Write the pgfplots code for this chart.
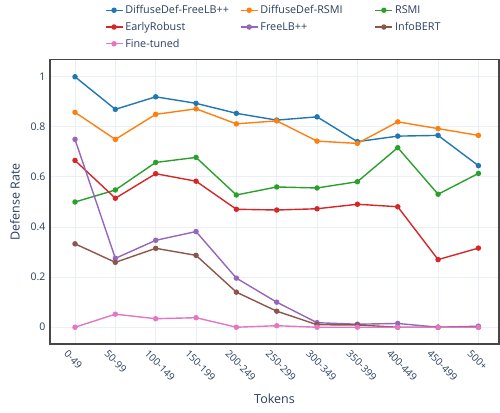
\documentclass[border=0pt]{standalone}
\usepackage{pgfplots}
\pgfplotsset{compat=1.18}
\usepackage{fontspec}
\setmainfont{Open Sans}
\definecolor{ptxt}{HTML}{2A3F5F}
\definecolor{pgrid}{HTML}{EBF0F8}
\definecolor{c1}{HTML}{1F77B4}
\definecolor{c2}{HTML}{FF7F0E}
\definecolor{c3}{HTML}{2CA02C}
\definecolor{c4}{HTML}{D62728}
\definecolor{c5}{HTML}{9467BD}
\definecolor{c6}{HTML}{8C564B}
\definecolor{c7}{HTML}{E377C2}
\begin{document}
\begin{tikzpicture}
\path[use as bounding box] (0,0) rectangle (500pt,412pt);
\begin{axis}[
    at={(50pt,68pt)}, anchor=south west,
    scale only axis, width=449pt, height=284.5pt,
    xmin=-0.62, xmax=10.51, ymin=-0.067, ymax=1.069,
    xtick={0,...,10},
    xticklabels={0-49,50-99,100-149,150-199,200-249,250-299,300-349,350-399,400-449,450-499,500+},
    ytick={0,0.2,0.4,0.6,0.8,1},
    yticklabels={0,0.2,0.4,0.6,0.8,1},
    major tick length=0pt,
    grid=major,
    grid style={pgrid, line width=1pt},
    axis line style={black!72, line width=1.2pt},
    yticklabel style={font=\fontsize{10.5}{12}\selectfont, text=ptxt, xshift=-1pt},
    xticklabel style={font=\fontsize{10}{12}\selectfont, text=ptxt,
        rotate=-45, anchor=north west, xshift=-4pt, yshift=-5pt},
    xlabel={Tokens}, ylabel={Defense Rate},
    label style={font=\fontsize{12.5}{14}\selectfont, text=ptxt},
    xlabel style={yshift=-4pt},
    ylabel style={yshift=4pt},
    legend columns=3,
    legend cell align=left,
    legend style={at={(axis description cs:0.115,1.205)}, anchor=north west,
        draw=none, fill=none, font=\fontsize{10.8}{12}\selectfont, text=ptxt,
        row sep=3pt,
        /tikz/column 2/.style={column sep=9pt},
        /tikz/column 4/.style={column sep=30pt}},
    every axis plot/.append style={line width=1.4pt, mark=*, mark size=2pt},
]
\addplot[c1, mark options={fill=c1}] coordinates {(0,1.0)(1,0.870)(2,0.920)(3,0.894)(4,0.854)(5,0.827)(6,0.840)(7,0.741)(8,0.763)(9,0.766)(10,0.645)};
\addlegendentry{DiffuseDef-FreeLB++}
\addplot[c2, mark options={fill=c2}] coordinates {(0,0.858)(1,0.750)(2,0.850)(3,0.872)(4,0.812)(5,0.824)(6,0.743)(7,0.734)(8,0.820)(9,0.793)(10,0.766)};
\addlegendentry{DiffuseDef-RSMI}
\addplot[c3, mark options={fill=c3}] coordinates {(0,0.500)(1,0.548)(2,0.658)(3,0.678)(4,0.528)(5,0.560)(6,0.556)(7,0.581)(8,0.717)(9,0.531)(10,0.614)};
\addlegendentry{RSMI}
\addplot[c4, mark options={fill=c4}] coordinates {(0,0.666)(1,0.515)(2,0.613)(3,0.583)(4,0.471)(5,0.468)(6,0.473)(7,0.491)(8,0.481)(9,0.270)(10,0.316)};
\addlegendentry{EarlyRobust}
\addplot[c5, mark options={fill=c5}] coordinates {(0,0.750)(1,0.275)(2,0.347)(3,0.382)(4,0.196)(5,0.100)(6,0.018)(7,0.012)(8,0.015)(9,0.0)(10,0.004)};
\addlegendentry{FreeLB++}
\addplot[c6, mark options={fill=c6}] coordinates {(0,0.333)(1,0.259)(2,0.315)(3,0.287)(4,0.140)(5,0.064)(6,0.010)(7,0.009)(8,0.0)(9,0.0)(10,0.0)};
\addlegendentry{InfoBERT}
\addplot[c7, mark options={fill=c7}] coordinates {(0,0.0)(1,0.052)(2,0.034)(3,0.038)(4,0.0)(5,0.006)(6,0.0)(7,0.0)(8,0.0)(9,0.0)(10,0.0)};
\addlegendentry{Fine-tuned}
\end{axis}
\end{tikzpicture}
\end{document}
